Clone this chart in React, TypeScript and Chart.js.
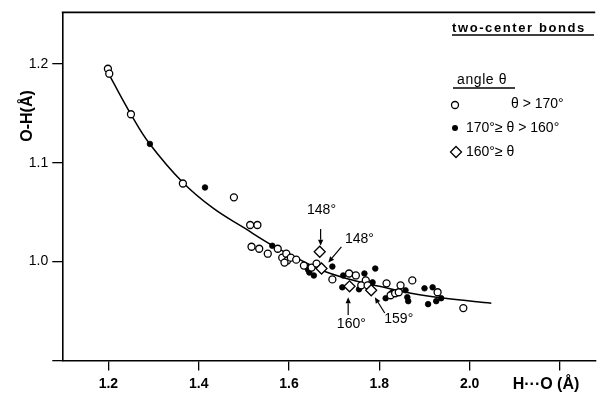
import React, { useEffect, useRef } from 'react';
import { Chart, registerables } from 'chart.js';

Chart.register(...registerables);

// θ > 170° (open circles)
const openX = [1.199, 1.202, 1.250, 1.365, 1.478, 1.514, 1.530, 1.517, 1.534, 1.553, 1.575, 1.585, 1.594, 1.596, 1.604, 1.616, 1.590, 1.633, 1.650, 1.661, 1.696, 1.733, 1.748, 1.770, 1.760, 1.774, 1.816, 1.847, 1.873, 1.825, 1.835, 1.843, 1.929, 1.986];
const openY = [1.195, 1.190, 1.149, 1.079, 1.065, 1.037, 1.037, 1.015, 1.013, 1.008, 1.013, 1.004, 1.008, 1.001, 1.004, 1.002, 0.999, 0.996, 0.994, 0.998, 0.982, 0.988, 0.986, 0.981, 0.976, 0.976, 0.978, 0.976, 0.981, 0.966, 0.968, 0.969, 0.969, 0.953];

// 170° ≥ θ > 160° (filled dots)
const filledX = [1.292, 1.414, 1.563, 1.642, 1.645, 1.655, 1.696, 1.718, 1.720, 1.767, 1.791, 1.755, 1.785, 1.814, 1.829, 1.858, 1.862, 1.864, 1.900, 1.908, 1.918, 1.926, 1.937];
const filledY = [1.119, 1.075, 1.016, 0.992, 0.989, 0.986, 0.995, 0.974, 0.986, 0.988, 0.993, 0.972, 0.979, 0.963, 0.969, 0.971, 0.964, 0.960, 0.973, 0.957, 0.974, 0.960, 0.963];

// 160° ≥ θ (diamonds)
const diamondX = [1.668, 1.672, 1.734, 1.782];
const diamondY = [1.010, 0.993, 0.975, 0.971];

// fitted curve
const curveX = [1.204, 1.250, 1.290, 1.365, 1.432, 1.501, 1.563, 1.620, 1.668, 1.727, 1.800, 1.870, 1.945, 2.048];
const curveY = [1.187, 1.149, 1.120, 1.080, 1.054, 1.034, 1.0165, 1.003, 0.992, 0.983, 0.975, 0.968, 0.963, 0.958];

const xTickValues = [1.2, 1.4, 1.6, 1.8, 2.0, 2.2];
const xTickLabels = ['1.2', '1.4', '1.6', '1.8', '2.0', ''];
const yTickValues = [0.9, 1.0, 1.1, 1.2];
const yTickLabels = ['', '1.0', '1.1', '1.2'];

const xTitle = 'H···O (Å)';
const yTitle = 'O-H(Å)';

// annotations (angle labels with arrows), data coordinates
const annotationTexts = ['148°', '148°', '160°', '159°'];
const annotationLabelX = [1.672, 1.756, 1.738, 1.843];
const annotationLabelY = [1.052, 1.023, 0.937, 0.942];
const arrowFromX = [1.670, 1.716, 1.731, 1.812];
const arrowFromY = [1.033, 1.015, 0.946, 0.948];
const arrowToX = [1.670, 1.687, 1.731, 1.790];
const arrowToY = [1.016, 0.999, 0.964, 0.964];

const legendTitle = 'two-center bonds';
const legendSubtitle = 'angle θ';
const legendLabels = ['θ > 170°', '170°≥ θ > 160°', '160°≥ θ'];

const FONT = '"Liberation Sans", Arial, Helvetica, sans-serif';

const toPts = (xs: number[], ys: number[]) => xs.map((x, i) => ({ x, y: ys[i] }));

const decorPlugin = {
  id: 'decor',
  afterDatasetsDraw(chart: any) {
    const ctx = chart.ctx as CanvasRenderingContext2D;
    const { chartArea } = chart;
    const xs = chart.scales.x;
    const ys = chart.scales.y;
    ctx.save();
    ctx.strokeStyle = '#000';
    ctx.fillStyle = '#000';

    // top frame line
    ctx.lineWidth = 1.8;
    ctx.beginPath();
    ctx.moveTo(chartArea.left - 0.5, chartArea.top);
    ctx.lineTo(chartArea.right, chartArea.top);
    ctx.stroke();

    // annotations
    ctx.font = `14px ${FONT}`;
    ctx.textAlign = 'center';
    ctx.textBaseline = 'middle';
    annotationTexts.forEach((t, i) => {
      ctx.fillText(t, xs.getPixelForValue(annotationLabelX[i]), ys.getPixelForValue(annotationLabelY[i]));
      const fx = xs.getPixelForValue(arrowFromX[i]);
      const fy = ys.getPixelForValue(arrowFromY[i]);
      const tx = xs.getPixelForValue(arrowToX[i]);
      const ty = ys.getPixelForValue(arrowToY[i]);
      const ang = Math.atan2(ty - fy, tx - fx);
      const headLen = 6;
      const headW = 2.6;
      const bx = tx - headLen * Math.cos(ang);
      const by = ty - headLen * Math.sin(ang);
      ctx.lineWidth = 1.2;
      ctx.beginPath();
      ctx.moveTo(fx, fy);
      ctx.lineTo(bx, by);
      ctx.stroke();
      ctx.beginPath();
      ctx.moveTo(tx, ty);
      ctx.lineTo(bx + headW * Math.sin(ang), by - headW * Math.cos(ang));
      ctx.lineTo(bx - headW * Math.sin(ang), by + headW * Math.cos(ang));
      ctx.closePath();
      ctx.fill();
    });

    // legend
    ctx.textAlign = 'left';
    ctx.font = `bold 13px ${FONT}`;
    (ctx as any).letterSpacing = '1.6px';
    ctx.fillText(legendTitle, 452, 28);
    (ctx as any).letterSpacing = '0px';
    ctx.lineWidth = 1.4;
    ctx.beginPath();
    ctx.moveTo(452, 35);
    ctx.lineTo(594, 35);
    ctx.stroke();

    ctx.font = `14px ${FONT}`;
    (ctx as any).letterSpacing = '0.6px';
    ctx.fillText(legendSubtitle, 457, 80);
    (ctx as any).letterSpacing = '0px';
    ctx.beginPath();
    ctx.moveTo(453, 88);
    ctx.lineTo(515, 88);
    ctx.stroke();

    // legend markers
    ctx.lineWidth = 1.3;
    ctx.beginPath();
    ctx.arc(455, 105, 3.5, 0, Math.PI * 2);
    ctx.fillStyle = '#fff';
    ctx.fill();
    ctx.stroke();
    ctx.fillStyle = '#000';
    ctx.beginPath();
    ctx.arc(455, 128, 3, 0, Math.PI * 2);
    ctx.fill();
    ctx.beginPath();
    ctx.moveTo(456, 146.5);
    ctx.lineTo(461.5, 152);
    ctx.lineTo(456, 157.5);
    ctx.lineTo(450.5, 152);
    ctx.closePath();
    ctx.stroke();

    ctx.font = `14px ${FONT}`;
    ctx.fillText(legendLabels[0], 511, 104);
    ctx.fillText(legendLabels[1], 466, 128);
    ctx.fillText(legendLabels[2], 466, 152);

    // axis titles
    ctx.font = `bold 16px ${FONT}`;
    ctx.textAlign = 'center';
    ctx.fillText(xTitle, 546, 385);
    ctx.save();
    ctx.translate(28, 116);
    ctx.rotate(-Math.PI / 2);
    ctx.fillText(yTitle, 0, 0);
    ctx.restore();

    ctx.restore();
  },
};

export default function App() {
  const canvasRef = useRef<HTMLCanvasElement | null>(null);

  useEffect(() => {
    const canvas = canvasRef.current;
    if (!canvas) return;
    const chart = new Chart(canvas, {
      type: 'scatter',
      data: {
        datasets: [
          {
            label: '160° ≥ θ',
            data: toPts(diamondX, diamondY),
            pointStyle: 'rectRot',
            pointRadius: 5.5,
            backgroundColor: '#fff',
            borderColor: '#000',
            borderWidth: 1.3,
          },
          {
            label: 'θ > 170°',
            data: toPts(openX, openY),
            pointStyle: 'circle',
            pointRadius: 3.5,
            backgroundColor: '#fff',
            borderColor: '#000',
            borderWidth: 1.3,
          },
          {
            label: '170° ≥ θ > 160°',
            data: toPts(filledX, filledY),
            pointStyle: 'circle',
            pointRadius: 2.8,
            backgroundColor: '#000',
            borderColor: '#000',
            borderWidth: 0.8,
          },
          {
            type: 'line',
            label: 'fit',
            data: toPts(curveX, curveY),
            showLine: true,
            pointRadius: 0,
            borderColor: '#000',
            borderWidth: 1.5,
            tension: 0.4,
            fill: false,
          } as any,
        ],
      },
      options: {
        animation: false,
        responsive: false,
        events: [],
        layout: { padding: { top: 10.5, right: 0, left: 0, bottom: 0 } },
        plugins: {
          legend: { display: false },
          tooltip: { enabled: false },
          title: { display: false },
        },
        scales: {
          x: {
            type: 'linear',
            min: 1.098,
            max: 2.278,
            afterBuildTicks: (scale: any) => {
              scale.ticks = xTickValues.map((v) => ({ value: v }));
            },
            afterFit: (scale: any) => {
              scale.height = 37.5;
            },
            ticks: {
              callback: (_v: any, i: number) => xTickLabels[i],
              color: '#000',
              font: { family: FONT, size: 14, weight: 'bold' },
              padding: 5,
              maxRotation: 0,
              autoSkip: false,
            },
            grid: {
              drawOnChartArea: false,
              drawTicks: true,
              tickLength: 10,
              color: '#000',
              lineWidth: 1.3,
            },
            border: { display: true, color: '#000', width: 1.6 },
          },
          y: {
            type: 'linear',
            min: 0.9,
            max: 1.252,
            afterBuildTicks: (scale: any) => {
              scale.ticks = yTickValues.map((v) => ({ value: v }));
            },
            afterFit: (scale: any) => {
              scale.width = 62.3;
            },
            ticks: {
              callback: (_v: any, i: number) => yTickLabels[i],
              color: '#000',
              font: { family: FONT, size: 14 },
              padding: 4,
              autoSkip: false,
            },
            grid: {
              drawOnChartArea: false,
              drawTicks: true,
              tickLength: 10,
              color: '#000',
              lineWidth: 1.3,
            },
            border: { display: true, color: '#000', width: 1.6 },
          },
        },
      },
      plugins: [decorPlugin],
    } as any);
    return () => chart.destroy();
  }, []);

  return (
    <div style={{ position: 'absolute', left: 0, top: 0, width: 602, height: 398, background: '#fff' }}>
      <canvas ref={canvasRef} width={602} height={398} style={{ display: 'block' }} />
    </div>
  );
}
